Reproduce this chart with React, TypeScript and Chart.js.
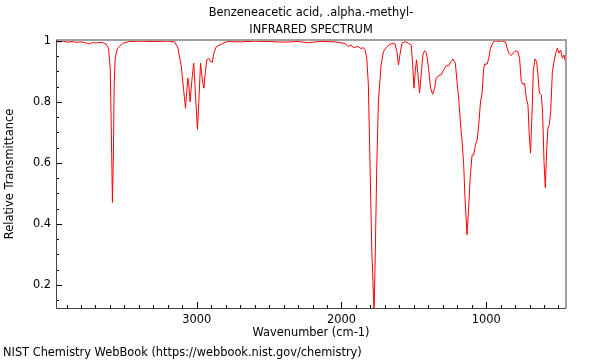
import React, { useEffect, useRef } from "react";
import { Chart, registerables } from "chart.js";

Chart.register(...registerables);

const TITLE_LINES = ["Benzeneacetic acid, .alpha.-methyl-", "INFRARED SPECTRUM"];
const X_LABEL = "Wavenumber (cm-1)";
const Y_LABEL = "Relative Transmittance";
const FOOTER = "NIST Chemistry WebBook (https://webbook.nist.gov/chemistry)";
const X_TICKS = [3000, 2000, 1000];
const Y_TICKS = [0.2, 0.4, 0.6, 0.8, 1];

const wavenumbers = [
  3973, 3950, 3920, 3890, 3860, 3830, 3800, 3770, 3744, 3720,
  3700, 3674, 3650, 3628, 3610, 3598, 3592, 3583, 3576, 3571,
  3564, 3548, 3513, 3467, 3400, 3300, 3200, 3155, 3132, 3108,
  3092, 3078, 3069, 3062, 3055, 3046, 3035, 3021, 3009, 2995,
  2986, 2974, 2963, 2951, 2940, 2931, 2917, 2905, 2893, 2882,
  2865, 2820, 2785, 2700, 2600, 2500, 2400, 2300, 2232, 2150,
  2050, 1976, 1953, 1934, 1918, 1895, 1883, 1865, 1849, 1837,
  1825, 1814, 1802, 1790, 1779, 1775, 1768, 1756, 1745, 1726,
  1710, 1686, 1664, 1641, 1629, 1617, 1606, 1596, 1582, 1560,
  1537, 1518, 1509, 1499, 1490, 1481, 1471, 1460, 1449, 1437,
  1426, 1412, 1398, 1384, 1370, 1356, 1345, 1329, 1310, 1294,
  1275, 1259, 1243, 1229, 1213, 1201, 1190, 1178, 1166, 1155,
  1146, 1132, 1121, 1109, 1097, 1086, 1074, 1062, 1051, 1039,
  1028, 1017, 1010, 993, 982, 970, 951, 935, 913, 889,
  866, 854, 843, 827, 813, 797, 781, 769, 757, 746,
  734, 722, 711, 702, 693, 684, 674, 663, 651, 642,
  632, 618, 609, 600, 591, 582, 573, 563, 554, 542,
  531, 519, 508, 496, 485, 473, 462, 450,
];

const transmittance = [
  0.998, 0.997, 0.999, 0.996, 0.998, 0.995, 0.997, 0.994, 0.99, 0.995,
  0.993, 0.995, 0.994, 0.99, 0.976, 0.91, 0.747, 0.47, 0.637, 0.856,
  0.943, 0.976, 0.992, 0.998, 0.999, 0.998, 0.999, 0.997, 0.98, 0.92,
  0.845, 0.779, 0.834, 0.878, 0.856, 0.8, 0.866, 0.927, 0.823, 0.71,
  0.8, 0.927, 0.878, 0.845, 0.9, 0.938, 0.943, 0.932, 0.93, 0.96,
  0.981, 0.992, 0.998, 0.997, 0.999, 0.998, 0.996, 0.998, 0.994, 0.998,
  0.997, 0.992, 0.981, 0.987, 0.978, 0.981, 0.981, 0.975, 0.978, 0.97,
  0.943, 0.856, 0.583, 0.309, 0.167, 0.1, 0.256, 0.583, 0.8, 0.921,
  0.965, 0.981, 0.989, 0.992, 0.99, 0.965, 0.921, 0.954, 0.992, 0.998,
  0.992, 0.987, 0.932, 0.845, 0.9, 0.938, 0.889, 0.829, 0.889, 0.954,
  0.968, 0.96, 0.91, 0.845, 0.825, 0.845, 0.878, 0.886, 0.889, 0.905,
  0.919, 0.919, 0.932, 0.941, 0.927, 0.867, 0.812, 0.735, 0.67, 0.593,
  0.484, 0.364, 0.451, 0.561, 0.626, 0.626, 0.659, 0.675, 0.725, 0.8,
  0.829, 0.91, 0.924, 0.924, 0.943, 0.976, 0.996, 1.0, 0.998, 1.0,
  0.996, 0.976, 0.96, 0.952, 0.96, 0.967, 0.965, 0.943, 0.867, 0.858,
  0.861, 0.812, 0.79, 0.692, 0.632, 0.747, 0.9, 0.941, 0.932, 0.889,
  0.829, 0.823, 0.757, 0.604, 0.519, 0.637, 0.714, 0.725, 0.768, 0.9,
  0.932, 0.96, 0.976, 0.96, 0.97, 0.943, 0.954, 0.927,
];

const FONT = "'DejaVu Sans', sans-serif";
const FONT_SIZE = 11.4;

const framePlugin = {
  id: "nistFrame",
  afterDraw(chart: any) {
    const { ctx, chartArea: a } = chart;
    const x = chart.scales.x;
    const y = chart.scales.y;
    ctx.save();
    ctx.strokeStyle = "#000";
    ctx.lineWidth = 1;
    for (let v = 500; v <= 3900; v += 100) {
      const px = Math.round(x.getPixelForValue(v)) + 0.5;
      const len = v % 1000 === 0 ? 6 : 3;
      ctx.beginPath();
      ctx.moveTo(px, a.bottom);
      ctx.lineTo(px, a.bottom - len);
      ctx.stroke();
    }
    for (let i = 3; i <= 20; i++) {
      const v = i * 0.05;
      const py = Math.round(y.getPixelForValue(v)) + 0.5;
      const len = i % 4 === 0 ? 6 : 3;
      ctx.beginPath();
      ctx.moveTo(a.left, py);
      ctx.lineTo(a.left + len, py);
      ctx.stroke();
    }
    // top & right border (gray)
    ctx.strokeStyle = "#a0a0a0";
    ctx.lineWidth = 2;
    ctx.beginPath();
    ctx.moveTo(a.left, a.top);
    ctx.lineTo(a.right, a.top);
    ctx.lineTo(a.right, a.bottom);
    ctx.stroke();
    // left & bottom border
    ctx.strokeStyle = "#444";
    ctx.lineWidth = 1;
    ctx.beginPath();
    ctx.moveTo(a.left + 0.5, a.top);
    ctx.lineTo(a.left + 0.5, a.bottom + 0.5);
    ctx.lineTo(a.right, a.bottom + 0.5);
    ctx.stroke();
    // titles and footer
    ctx.fillStyle = "#000";
    ctx.font = `${FONT_SIZE}px ${FONT}`;
    ctx.textAlign = "center";
    ctx.textBaseline = "middle";
    const cx = (a.left + a.right) / 2;
    ctx.fillText(TITLE_LINES[0], cx, 13);
    ctx.fillText(TITLE_LINES[1], cx, 30);
    ctx.textAlign = "left";
    ctx.fillText(FOOTER, 3, 353);
    ctx.restore();
  },
};

export default function App() {
  const ref = useRef<HTMLCanvasElement | null>(null);

  useEffect(() => {
    if (!ref.current) return;
    const font = { family: FONT, size: FONT_SIZE };
    const chart = new Chart(ref.current, {
      type: "line",
      data: {
        datasets: [
          {
            data: wavenumbers.map((w, i) => ({ x: w, y: transmittance[i] })),
            borderColor: "#ff0000",
            borderWidth: 1,
            pointRadius: 0,
            tension: 0,
            fill: false,
          },
        ],
      },
      options: {
        animation: false,
        responsive: false,
        maintainAspectRatio: false,
        layout: { padding: { left: 0, right: 34, top: 40, bottom: 20 } },
        plugins: {
          legend: { display: false },
          tooltip: { enabled: false },
          title: { display: false },
        },
        scales: {
          x: {
            type: "linear",
            reverse: true,
            min: 448,
            max: 3973,
            grid: { display: false, drawTicks: false },
            border: { display: false },
            afterBuildTicks: (s: any) => {
              s.ticks = X_TICKS.map((v) => ({ value: v }));
            },
            afterFit: (s: any) => {
              s.height = 32;
            },
            ticks: {
              padding: 5,
              color: "#000",
              font,
              maxRotation: 0,
              autoSkip: false,
              callback: (v: any) => String(v),
            },
            title: { display: true, text: X_LABEL, color: "#000", font, padding: 0 },
          },
          y: {
            type: "linear",
            min: 0.124,
            max: 1.003,
            grid: { display: false, drawTicks: false },
            border: { display: false },
            afterBuildTicks: (s: any) => {
              s.ticks = Y_TICKS.map((v) => ({ value: v }));
            },
            afterFit: (s: any) => {
              s.width = 56;
            },
            ticks: {
              padding: 5,
              color: "#000",
              font,
              autoSkip: false,
              callback: (v: any) => String(v),
            },
            title: { display: true, text: Y_LABEL, color: "#000", font, padding: { top: 3, bottom: 0 } },
          },
        },
      },
      plugins: [framePlugin],
    } as any);
    return () => chart.destroy();
  }, []);

  return (
    <div style={{ position: "absolute", left: 0, top: 0, width: 600, height: 360, background: "#fff" }}>
      <canvas ref={ref} width={600} height={360} />
    </div>
  );
}
